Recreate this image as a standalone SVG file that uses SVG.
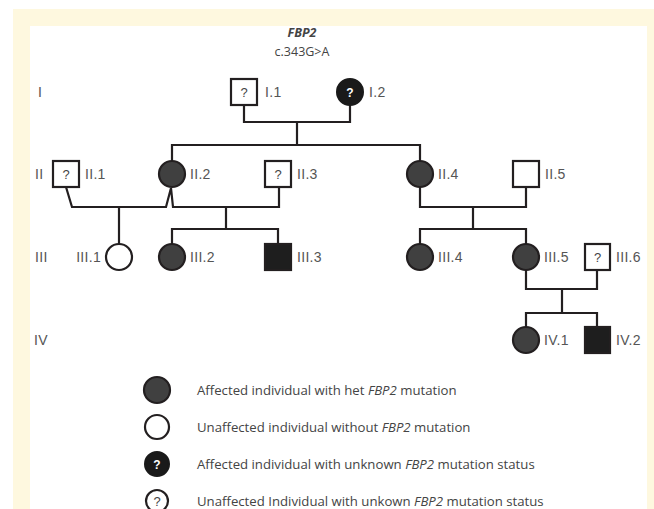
<svg xmlns="http://www.w3.org/2000/svg" width="654" height="509" viewBox="0 0 654 509">
<style>
.bg{fill:#fef8df}
.ln{fill:none;stroke:#231f20;stroke-width:2.2}
.sq{fill:#fff;stroke:#231f20;stroke-width:2.2}
.sqb{fill:#1e1e1e;stroke:#231f20;stroke-width:2.2}
.ci{fill:#fff;stroke:#231f20;stroke-width:2.2}
.ca{fill:#404040;stroke:#231f20;stroke-width:2.2}
.cb{fill:#1a1a1a;stroke:#1a1a1a;stroke-width:2}
.lb{font-family:"Liberation Sans",Arial,sans-serif;font-size:14px;letter-spacing:0.3px;fill:#555}
.q{font-family:"Liberation Sans",Arial,sans-serif;font-size:13px;fill:#444;text-anchor:middle}
.qw{font-family:"Liberation Sans",Arial,sans-serif;font-size:12px;font-weight:bold;fill:#fff;text-anchor:middle}
.lg{font-family:"Open Sans","Noto Sans",sans-serif;font-size:13.2px;fill:#444}
.t{font-family:"Open Sans","Noto Sans",sans-serif;font-size:12.5px;fill:#444;text-anchor:middle}
</style>
<rect class="bg" x="13" y="9" width="641" height="500"/>
<rect x="30" y="26" width="617" height="483" fill="#fff"/>
<text class="t" x="302" y="37" font-weight="bold" font-style="italic">FBP2</text>
<text class="t" x="302" y="56">c.343G&gt;A</text>
<g id="gen-labels" class="lb">
<text x="38" y="97">I</text>
<text x="35" y="179">II</text>
<text x="35" y="262">III</text>
<text x="34" y="345">IV</text>
</g>
<g id="connectors">
<path class="ln" d="M244 105V122H350V105"/>
<path class="ln" d="M297 122V145"/>
<path class="ln" d="M172 161V145H420V161"/>
<path class="ln" d="M66 187L72 207H166L171 188L173 207H279V187"/>
<path class="ln" d="M119 207V244"/>
<path class="ln" d="M226 207V229"/>
<path class="ln" d="M172 244V229H278V244"/>
<path class="ln" d="M420 187V207H526V187"/>
<path class="ln" d="M473 207V229"/>
<path class="ln" d="M420 244V229H526V244"/>
<path class="ln" d="M526 270V289H597V270"/>
<path class="ln" d="M562 289V313"/>
<path class="ln" d="M526 327V313H597V327"/>
</g>
<g id="I1"><rect class="sq" x="231" y="79" width="26" height="26"/><text class="q" x="244" y="97">?</text><text class="lb" x="265" y="97">I.1</text></g>
<g id="I2"><circle class="cb" cx="350" cy="92" r="13"/><text class="qw" x="350" y="96.5">?</text><text class="lb" x="369" y="97">I.2</text></g>
<g id="II1"><rect class="sq" x="53" y="161" width="26" height="26"/><text class="q" x="66" y="179">?</text><text class="lb" x="85" y="179">II.1</text></g>
<g id="II2"><circle class="ca" cx="172" cy="174" r="13"/><text class="lb" x="190" y="179">II.2</text></g>
<g id="II3"><rect class="sq" x="265" y="161" width="26" height="26"/><text class="q" x="278" y="179">?</text><text class="lb" x="297" y="179">II.3</text></g>
<g id="II4"><circle class="ca" cx="420" cy="174" r="13"/><text class="lb" x="438" y="179">II.4</text></g>
<g id="II5"><rect class="sq" x="513" y="161" width="26" height="26"/><text class="lb" x="545" y="179">II.5</text></g>
<g id="III1"><circle class="ci" cx="119" cy="257" r="13"/><text class="lb" x="101" y="262" text-anchor="end">III.1</text></g>
<g id="III2"><circle class="ca" cx="172" cy="257" r="13"/><text class="lb" x="190" y="262">III.2</text></g>
<g id="III3"><rect class="sqb" x="265" y="244" width="26" height="26"/><text class="lb" x="297" y="262">III.3</text></g>
<g id="III4"><circle class="ca" cx="420" cy="257" r="13"/><text class="lb" x="438" y="262">III.4</text></g>
<g id="III5"><circle class="ca" cx="526" cy="257" r="13"/><text class="lb" x="544" y="262">III.5</text></g>
<g id="III6"><rect class="sq" x="585" y="244" width="25" height="26"/><text class="q" x="597.5" y="262">?</text><text class="lb" x="616" y="262">III.6</text></g>
<g id="IV1"><circle class="ca" cx="526" cy="340" r="13"/><text class="lb" x="544" y="345">IV.1</text></g>
<g id="IV2"><rect class="sqb" x="585" y="327" width="25" height="26"/><text class="lb" x="616" y="345">IV.2</text></g>
<g id="legend">
<circle class="ca" cx="157" cy="390" r="13"/>
<text class="lg" x="197" y="395">Affected individual with het <tspan font-style="italic">FBP2</tspan> mutation</text>
<circle class="ci" cx="157" cy="427" r="12"/>
<text class="lg" x="197" y="432">Unaffected individual without <tspan font-style="italic">FBP2</tspan> mutation</text>
<circle class="cb" cx="157" cy="464" r="12"/>
<text class="qw" x="157" y="468.5">?</text>
<text class="lg" x="197" y="469">Affected individual with unknown <tspan font-style="italic">FBP2</tspan> mutation status</text>
<circle class="ci" cx="157" cy="501" r="11" stroke-width="1.8"/>
<text class="q" x="157" y="505.5" font-size="12">?</text>
<text class="lg" x="197" y="506">Unaffected Individual with unkown <tspan font-style="italic">FBP2</tspan> mutation status</text>
</g>
</svg>
